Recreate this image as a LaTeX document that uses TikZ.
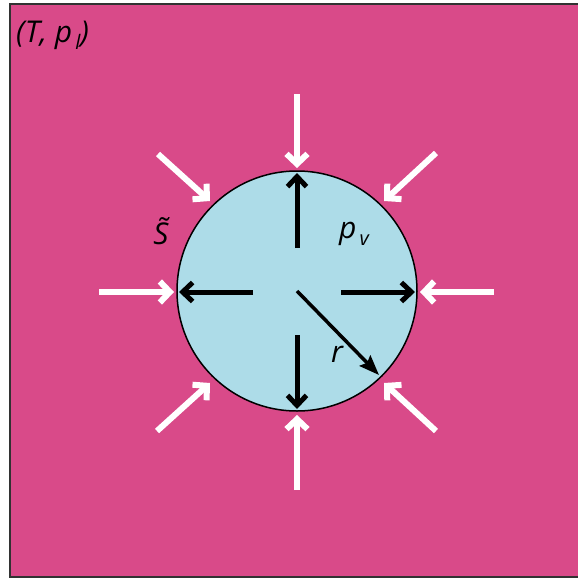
\documentclass[tikz,border=0pt]{standalone}
\usepackage{fontspec}
\setmainfont{Open Sans}
\usetikzlibrary{arrows.meta}
\definecolor{bgpink}{RGB}{217,74,137}
\definecolor{bubble}{RGB}{173,220,232}
\definecolor{frame}{RGB}{50,50,50}
\newcommand{\lowsub}[1]{\kern3pt\raisebox{-7pt}{\fontsize{20}{22}\selectfont #1}}
\tikzset{
  inarrow/.style={draw=white,line width=6pt,-{Straight Barb[length=10pt,width=21pt,line width=6pt]}},
  outarrow/.style={draw=black,line width=5pt,-{Straight Barb[length=10pt,width=19pt,line width=5pt]}},
  radarrow/.style={draw=black,line width=3.5pt,-{Stealth[length=20pt,width=15pt,inset=3pt]}},
  lbl/.style={font=\fontsize{30}{34}\selectfont\itshape,inner sep=0pt}
}
\begin{document}
\begin{tikzpicture}[x=1pt,y=-1pt]
\useasboundingbox (0,0) rectangle (578,579);
\clip (0,0) rectangle (578,579);
\draw[frame,fill=bgpink,line width=2.5pt] (10,4) rectangle (590,577);
\node[circle,draw=black,line width=1.5pt,fill=bubble,minimum size=240pt,inner sep=0pt] (bub) at (297,291) {};
% outward black arrows
\coordinate (cu1) at (297,248); \coordinate (cu2) at (297,173);
\coordinate (cd1) at (297,335); \coordinate (cd2) at (297,409);
\coordinate (cl1) at (253,292); \coordinate (cl2) at (179,292);
\coordinate (cr1) at (341,292); \coordinate (cr2) at (415,292);
\draw[outarrow] (cu1) -- (cu2);
\draw[outarrow] (cd1) -- (cd2);
\draw[outarrow] (cl1) -- (cl2);
\draw[outarrow] (cr1) -- (cr2);
% radius
\coordinate (c0) at (297,291); \coordinate (rr) at (379,375);
\draw[radarrow] (c0) -- (rr);
% inward white arrows
\coordinate (wt1) at (297,94);  \coordinate (wt2) at (297,168);
\coordinate (wb1) at (297,490); \coordinate (wb2) at (297,415);
\coordinate (wl1) at (99,292);  \coordinate (wl2) at (174,292);
\coordinate (wr1) at (494,292); \coordinate (wr2) at (420,292);
\coordinate (wnw1) at (158,154); \coordinate (wnw2) at (210,201);
\coordinate (wne1) at (436,153); \coordinate (wne2) at (384,201);
\coordinate (wsw1) at (157,431); \coordinate (wsw2) at (210,383);
\coordinate (wse1) at (436,431); \coordinate (wse2) at (384,383);
\foreach \a in {wt,wb,wl,wr,wnw,wne,wsw,wse}
  \draw[inarrow] (\a1) -- (\a2);
% labels
\node[lbl,anchor=west] (tp) at (16,35) {(T, p\lowsub{l})};
\node[lbl] (S) at (161,231) {\~{S}};
\node[lbl] (pv) at (354,234) {p\lowsub{v}};
\node[lbl] (r) at (337,354) {r};
\end{tikzpicture}
\end{document}
